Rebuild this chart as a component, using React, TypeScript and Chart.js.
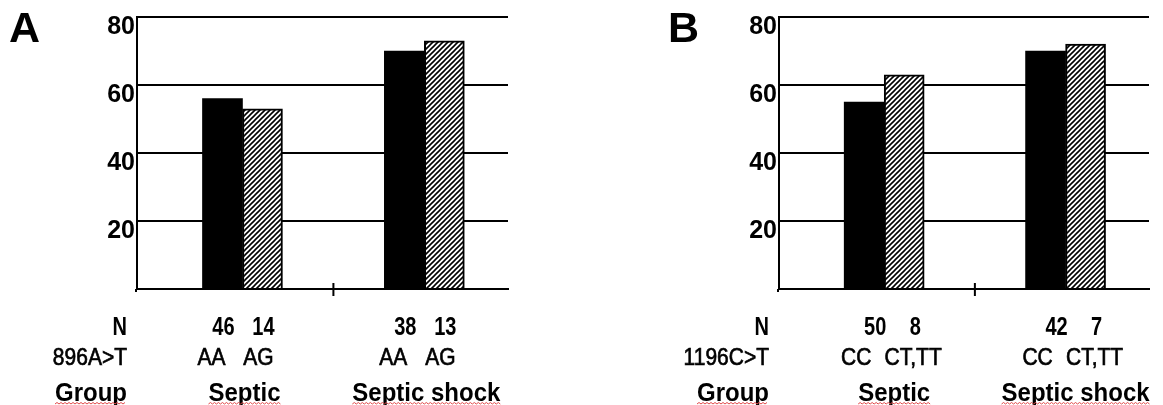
import React, { useEffect, useRef } from "react";
import { Chart, registerables } from "chart.js";
Chart.register(...registerables);

// ---------- data ----------
const groups = ["Septic", "Septic shock"];
const rowTitleN = "N";
const rowTitleGroup = "Group";

const aLetter = "A";
const aMarker = "896A>T";
const aGenotypeWild = ["AA", "AA"];
const aGenotypeVar = ["AG", "AG"];
const aCountWild = [46, 38];
const aCountVar = [14, 13];
const aValuesWild = [56, 70];
const aValuesVar = [53, 73];

const bLetter = "B";
const bMarker = "1196C>T";
const bGenotypeWild = ["CC", "CC"];
const bGenotypeVar = ["CT,TT", "CT,TT"];
const bCountWild = [50, 42];
const bCountVar = [8, 7];
const bValuesWild = [55, 70];
const bValuesVar = [63, 72];

const yMin = 0;
const yMax = 80;
const yStep = 20;

const FAMILY = "'Liberation Sans', Arial, Helvetica, sans-serif";

function makeHatch(ctx: CanvasRenderingContext2D) {
  const s = 5;
  const c = document.createElement("canvas");
  c.width = s;
  c.height = s;
  const g = c.getContext("2d")!;
  g.fillStyle = "#fff";
  g.fillRect(0, 0, s, s);
  g.strokeStyle = "#000";
  g.lineWidth = 1.6;
  g.beginPath();
  g.moveTo(0, s);
  g.lineTo(s, 0);
  g.moveTo(-1, 1);
  g.lineTo(1, -1);
  g.moveTo(s - 1, s + 1);
  g.lineTo(s + 1, s - 1);
  g.stroke();
  return ctx.createPattern(c, "repeat")!;
}

function stretchedText(
  ctx: CanvasRenderingContext2D,
  text: string,
  x: number,
  y: number,
  font: string,
  align: CanvasTextAlign,
  sy: number,
  embolden = 0
) {
  ctx.save();
  ctx.font = font;
  ctx.textAlign = align;
  ctx.textBaseline = "alphabetic";
  ctx.fillStyle = "#000";
  ctx.strokeStyle = "#000";
  ctx.translate(x, y);
  ctx.scale(1, sy);
  ctx.fillText(text, 0, 0);
  if (embolden > 0) {
    ctx.lineWidth = embolden;
    ctx.strokeText(text, 0, 0);
  }
  ctx.restore();
}

function squiggle(ctx: CanvasRenderingContext2D, x1: number, x2: number, y: number) {
  ctx.save();
  ctx.strokeStyle = "#e04848";
  ctx.lineWidth = 1;
  ctx.beginPath();
  let up = false;
  ctx.moveTo(x1, y);
  for (let x = x1 + 2; x <= x2; x += 2) {
    up = !up;
    ctx.lineTo(x, up ? y - 1.5 : y);
  }
  ctx.stroke();
  ctx.restore();
}

type PanelCfg = {
  letter: string;
  marker: string;
  genoWild: string[];
  genoVar: string[];
  countWild: number[];
  countVar: number[];
  valuesWild: number[];
  valuesVar: number[];
  left: number;
  width: number;
  yWidth: number;
  padRight: number;
  letterX: number;
  nDx: number;
  g1Dx: number;
  g2Dx: number;
  groupDx: number;
};

function Panel({ cfg }: { cfg: PanelCfg }) {
  const ref = useRef<HTMLCanvasElement>(null);
  useEffect(() => {
    const canvas = ref.current!;
    const ctx2 = canvas.getContext("2d")!;
    const hatch = makeHatch(ctx2);

    const labelPlugin = {
      id: "panelLabels",
      afterDraw(chart: any) {
        const ctx: CanvasRenderingContext2D = chart.ctx;
        const xs = chart.scales.x;
        const ys = chart.scales.y;
        const y0 = ys.getPixelForValue(0);
        const left = chart.chartArea.left;

        // axis ticks
        ctx.save();
        ctx.strokeStyle = "#000";
        ctx.lineWidth = 2;
        ctx.beginPath();
        const mx = xs.getPixelForValue(1.5);
        ctx.moveTo(mx, y0 - 6);
        ctx.lineTo(mx, y0 + 7);
        ctx.moveTo(left - 1, y0);
        ctx.lineTo(left - 1, y0 + 3);
        ctx.stroke();
        ctx.restore();

        // panel letter
        ctx.save();
        ctx.font = `bold 43px ${FAMILY}`;
        ctx.fillStyle = "#000";
        ctx.textAlign = "left";
        ctx.textBaseline = "alphabetic";
        ctx.fillText(cfg.letter, cfg.letterX, 42);
        ctx.restore();

        const nFont = `bold 20px ${FAMILY}`;
        const gFont = `21px ${FAMILY}`;
        const grpFont = `bold 24px ${FAMILY}`;
        const nY = 335;
        const gY = 365;
        const grpY = 401;
        const titleX = left - 10;

        stretchedText(ctx, rowTitleN, titleX, nY, nFont, "right", 1.25);
        stretchedText(ctx, cfg.marker, titleX, gY, gFont, "right", 1.1, 0.6);
        stretchedText(ctx, rowTitleGroup, titleX, grpY, grpFont, "right", 1.05);
        ctx.font = grpFont;
        const gw = ctx.measureText(rowTitleGroup).width;
        squiggle(ctx, titleX - gw, titleX, grpY + 3);

        const m0 = chart.getDatasetMeta(0);
        const m1 = chart.getDatasetMeta(1);
        groups.forEach((g, i) => {
          const x0 = m0.data[i].x;
          const x1 = m1.data[i].x;
          stretchedText(ctx, String(cfg.countWild[i]), x0 + cfg.nDx, nY, nFont, "center", 1.25);
          stretchedText(ctx, String(cfg.countVar[i]), x1 + cfg.nDx, nY, nFont, "center", 1.25);
          stretchedText(ctx, cfg.genoWild[i], x0 + cfg.g1Dx, gY, gFont, "center", 1.1, 0.6);
          stretchedText(ctx, cfg.genoVar[i], x1 + cfg.g2Dx, gY, gFont, "center", 1.1, 0.6);
          const cx = (x0 + x1) / 2 + cfg.groupDx;
          stretchedText(ctx, g, cx, grpY, grpFont, "center", 1.05);
          ctx.font = grpFont;
          const w = ctx.measureText(g).width;
          squiggle(ctx, cx - w / 2, cx + w / 2, grpY + 3);
        });
      },
    };

    const chart = new Chart(canvas, {
      type: "bar",
      data: {
        datasets: [
          {
            label: "wild",
            data: cfg.valuesWild.map((y, i) => ({ x: i + 1, y })),
            backgroundColor: "#000",
            borderColor: "#000",
            borderWidth: 0,
            barThickness: 40,
          } as any,
          {
            label: "variant",
            data: cfg.valuesVar.map((y, i) => ({ x: i + 1, y })),
            backgroundColor: hatch,
            borderColor: "#000",
            borderWidth: 2,
            barThickness: 40,
          } as any,
        ],
      },
      options: {
        responsive: false,
        animation: false,
        devicePixelRatio: 1,
        layout: { padding: { left: 0, right: cfg.padRight, top: 13, bottom: 116 } },
        plugins: { legend: { display: false }, tooltip: { enabled: false } },
        scales: {
          x: {
            type: "linear",
            offset: false,
            min: 0.42,
            max: 2.46,
            ticks: { display: false },
            grid: { display: false, offset: false },
            border: { display: true, color: "#000", width: 2 },
            afterFit: (s: any) => {
              s.height = 0;
            },
          },
          y: {
            min: yMin,
            max: yMax,
            ticks: {
              stepSize: yStep,
              callback: (v: any) => (v === 0 ? "" : String(v)),
              color: "#000",
              font: { family: FAMILY, size: 25, weight: "bold" },
              padding: 2,
              labelOffset: 10,
            },
            grid: { color: "#000", lineWidth: 2, drawTicks: false },
            border: { display: true, color: "#000", width: 2 },
            afterFit: (s: any) => {
              s.width = cfg.yWidth;
            },
          },
        },
      } as any,
      plugins: [labelPlugin],
    });
    return () => chart.destroy();
  }, [cfg]);

  return (
    <canvas
      ref={ref}
      width={cfg.width}
      height={405}
      style={{ position: "absolute", left: cfg.left, top: 0, width: cfg.width, height: 405 }}
    />
  );
}

const panelA: PanelCfg = {
  letter: aLetter,
  marker: aMarker,
  genoWild: aGenotypeWild,
  genoVar: aGenotypeVar,
  countWild: aCountWild,
  countVar: aCountVar,
  valuesWild: aValuesWild,
  valuesVar: aValuesVar,
  left: 0,
  width: 580,
  yWidth: 137,
  padRight: 72,
  letterX: 9,
  nDx: 1,
  g1Dx: -11,
  g2Dx: -4,
  groupDx: 2,
};

const panelB: PanelCfg = {
  letter: bLetter,
  marker: bMarker,
  genoWild: bGenotypeWild,
  genoVar: bGenotypeVar,
  countWild: bCountWild,
  countVar: bCountVar,
  valuesWild: bValuesWild,
  valuesVar: bValuesVar,
  left: 580,
  width: 583,
  yWidth: 199,
  padRight: 14,
  letterX: 88,
  nDx: 11,
  g1Dx: -8,
  g2Dx: 9,
  groupDx: 10,
};

export default function App() {
  return (
    <div style={{ position: "absolute", left: 0, top: 0, width: 1163, height: 405, background: "#fff" }}>
      <Panel cfg={panelA} />
      <Panel cfg={panelB} />
    </div>
  );
}
